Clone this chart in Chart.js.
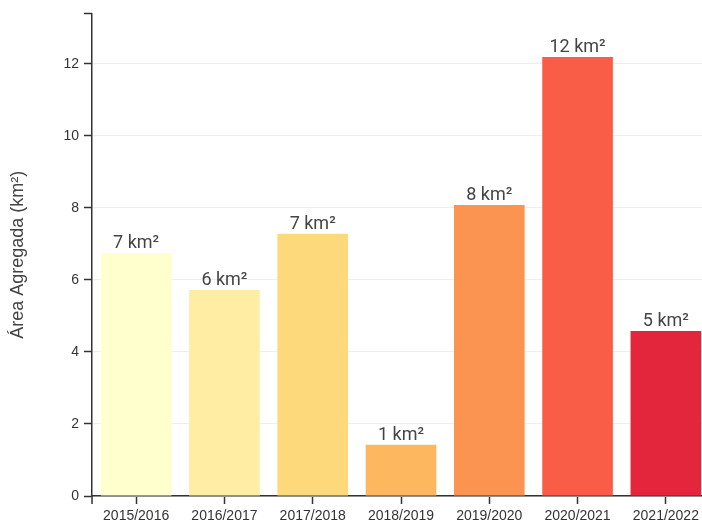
<!DOCTYPE html>
<html>
<head>
<meta charset="utf-8">
<script src="https://cdn.jsdelivr.net/npm/chart.js@4/dist/chart.umd.min.js"></script>
<style>
  html, body { margin: 0; padding: 0; background: #fff; overflow: hidden; }
  #wrap { width: 702px; height: 524px; overflow: hidden; position: relative; }
  #box { width: 714px; height: 524px; position: absolute; left: 0; top: 0; }
</style>
</head>
<body>
<div id="wrap"><div id="box"><canvas id="chart"></canvas></div></div>
<script>
// Seasons and aggregated area (km²) per season
const seasons = ['2015/2016', '2016/2017', '2017/2018', '2018/2019', '2019/2020', '2020/2021', '2021/2022'];
const areaKm2 = [6.75, 5.72, 7.28, 1.42, 8.08, 12.19, 4.58];
const barColors = ['#FFFFCE', '#FFEDA4', '#FED97B', '#FDB75E', '#FC9451', '#F95C47', '#E3263B'];
const yTickStep = 2;
const yMax = 13.4;
const yTitle = 'Área Agregada (km²)';
const unitSuffix = ' km²';

const AXIS = '#333333';
const TICK_LEN = 8;

// Value labels above each bar, plus the outer end ticks of both axes
const extras = {
  id: 'extras',
  afterDatasetsDraw(chart) {
    const ctx = chart.ctx;
    const meta = chart.getDatasetMeta(0);
    ctx.save();
    ctx.font = '18px Roboto, "Noto Sans", sans-serif';
    ctx.fillStyle = '#444444';
    ctx.textAlign = 'center';
    ctx.textBaseline = 'alphabetic';
    meta.data.forEach((bar, i) => {
      ctx.fillText(Math.round(areaKm2[i]) + unitSuffix, bar.x, bar.y - 5);
    });
    ctx.restore();
  },
  afterDraw(chart) {
    const ctx = chart.ctx;
    const a = chart.chartArea;
    ctx.save();
    ctx.strokeStyle = AXIS;
    ctx.lineWidth = 1.5;
    ctx.beginPath();
    // y axis top end tick
    ctx.moveTo(a.left - TICK_LEN, a.top);
    ctx.lineTo(a.left, a.top);
    // x axis end ticks
    ctx.moveTo(a.left, a.bottom);
    ctx.lineTo(a.left, a.bottom + TICK_LEN);
    ctx.moveTo(a.right, a.bottom);
    ctx.lineTo(a.right, a.bottom + TICK_LEN);
    ctx.stroke();
    ctx.restore();
  }
};

new Chart(document.getElementById('chart'), {
  type: 'bar',
  data: {
    labels: seasons,
    datasets: [{
      data: areaKm2,
      backgroundColor: barColors,
      borderWidth: 0,
      categoryPercentage: 0.8,
      barPercentage: 1.0
    }]
  },
  options: {
    responsive: true,
    maintainAspectRatio: false,
    animation: false,
    layout: { padding: { top: 12, right: 4, left: 0, bottom: 0 } },
    plugins: {
      legend: { display: false },
      tooltip: { enabled: false }
    },
    scales: {
      x: {
        offset: true,
        grid: {
          display: true,
          drawOnChartArea: false,
          drawTicks: true,
          tickLength: TICK_LEN,
          tickColor: AXIS,
          tickWidth: 1.5,
          offset: false
        },
        border: { color: AXIS, width: 1.5 },
        ticks: {
          color: '#333333',
          padding: 4,
          maxRotation: 0,
          autoSkip: false,
          font: { family: '"Liberation Sans", Arial, sans-serif', size: 14 }
        },
        afterFit(s) { s.height = 28; }
      },
      y: {
        min: 0,
        max: yMax,
        grid: {
          color: '#EEEEEE',
          lineWidth: 1,
          tickLength: TICK_LEN,
          tickColor: AXIS,
          tickWidth: 1.5
        },
        border: { color: AXIS, width: 1.5 },
        ticks: {
          stepSize: yTickStep,
          includeBounds: false,
          color: '#333333',
          padding: 5,
          font: { family: '"Liberation Sans", Arial, sans-serif', size: 14 }
        },
        title: {
          display: true,
          text: yTitle,
          color: '#444444',
          padding: { top: 7, bottom: 10 },
          font: { family: '"Liberation Sans", Arial, sans-serif', size: 18 }
        },
        afterFit(s) { s.width = 92; }
      }
    }
  },
  plugins: [extras]
});
</script>
</body>
</html>
